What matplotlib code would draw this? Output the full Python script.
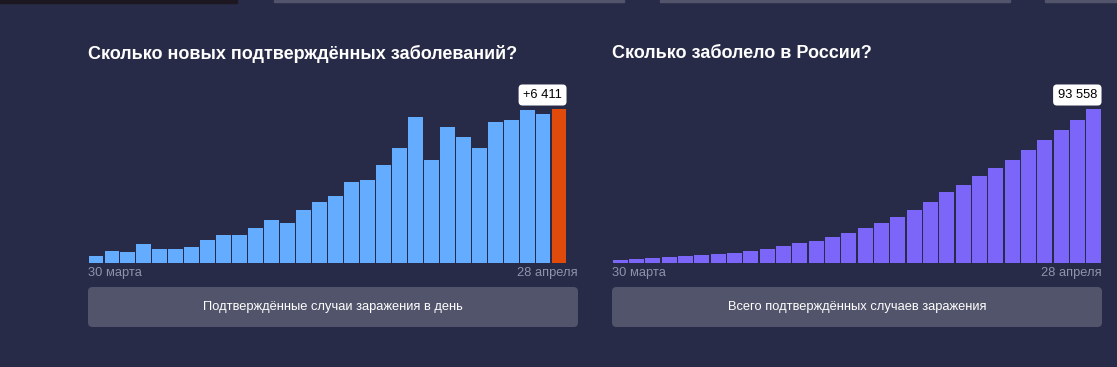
import matplotlib.pyplot as plt
from matplotlib.patches import FancyBboxPatch, Rectangle

W, H = 1117, 367

# daily new confirmed cases, 30 March .. 28 April
daily_new = [302, 501, 440, 771, 601, 582, 658, 954, 1154, 1175,
             1459, 1786, 1667, 2186, 2558, 2774, 3388, 3448, 4070, 4785,
             6060, 4268, 5642, 5236, 4774, 5849, 5966, 6361, 6198, 6411]
# total confirmed cases, same days
total_cases = [1836, 2337, 2777, 3548, 4149, 4731, 5389, 6343, 7497, 8672,
               10131, 11917, 13584, 15770, 18328, 21102, 24490, 27938, 32008, 36793,
               42853, 47121, 52763, 57999, 62773, 68622, 74588, 80949, 87147, 93558]
first_label = "30 марта"
last_label = "28 апреля"
titles = ["Сколько новых подтверждённых заболеваний?", "Сколько заболело в России?"]
buttons = ["Подтверждённые случаи заражения в день", "Всего подтверждённых случаев заражения"]
value_labels = ["+6 411", "93 558"]

BG = "#282b47"
BLUE = "#64acff"
ORANGE = "#e04a0a"
PURPLE = "#7c66fa"
BTN = "#52546b"
MUTED = "#8e92aa"

plt.rcParams['font.family'] = ['Liberation Sans', 'DejaVu Sans']

fig = plt.figure(figsize=(W / 100, H / 100), dpi=100, facecolor=BG)


def fx(x):
    return x / W


def fy(y):
    return 1 - y / H


# bits of the page above (cut off at the top edge)
fig.patches.append(Rectangle((0, fy(2.5)), fx(237), 2.5 / H, transform=fig.transFigure,
                             color="#1c1720", zorder=0))
for x0, x1 in [(274, 624), (660, 1010), (1045, 1117)]:
    fig.patches.append(Rectangle((fx(x0), fy(2)), fx(x1 - x0), 2 / H, transform=fig.transFigure,
                                 color=BTN, zorder=0))

panels = [
    (88, 567, 578, daily_new, [BLUE] * (len(daily_new) - 1) + [ORANGE]),
    (612, 1102, 1102, total_cases, [PURPLE] * len(total_cases)),
]

base_y, top_y = 263, 109

for i, (x0, x1, xr, vals, cols) in enumerate(panels):
    ax = fig.add_axes([fx(x0), fy(base_y), fx(x1 - x0), (base_y - top_y) / H])
    ax.set_facecolor(BG)
    n = len(vals)
    ax.bar(range(n), vals, width=0.93, color=cols, linewidth=0)
    ax.set_xlim(-0.5, n - 0.5)
    ax.set_ylim(0, max(vals))
    ax.axis('off')

    ax.annotate(value_labels[i], xy=(n - 0.5, vals[-1]), xytext=(-5, 8),
                textcoords='offset pixels', ha='right', va='bottom',
                fontsize=9.3, color='black', annotation_clip=False,
                bbox=dict(boxstyle='round,pad=0.35,rounding_size=0.3',
                          fc='white', ec='none'))

    fig.text(fx(x0), fy(54), titles[i], fontsize=13, fontweight='bold',
             color='white', ha='left', va='center')
    fig.text(fx(x0), fy(273), first_label, fontsize=9.3, color=MUTED,
             ha='left', va='center')
    fig.text(fx(xr), fy(273), last_label, fontsize=9.3, color=MUTED,
             ha='right', va='center')

    bx1 = 578 if i == 0 else 1102
    fig.patches.append(FancyBboxPatch((fx(x0), fy(327)), fx(bx1 - x0), 40 / H,
                                      boxstyle='round,pad=0,rounding_size=0.004',
                                      transform=fig.transFigure, fc=BTN, ec='none',
                                      mutation_aspect=W / H, zorder=0))
    fig.text(fx((x0 + bx1) / 2), fy(307), buttons[i], fontsize=9.3, color='white',
             ha='center', va='center')

fig.savefig("out.png", dpi=100, facecolor=BG)
